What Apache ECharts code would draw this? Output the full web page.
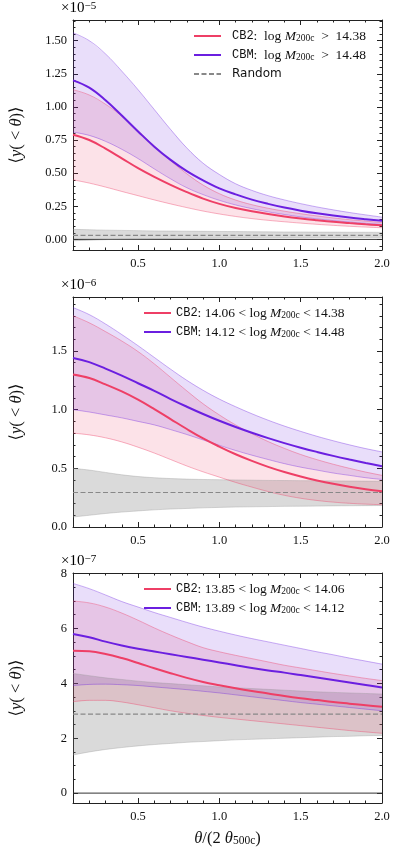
<!DOCTYPE html>
<html>
<head>
<meta charset="utf-8">
<script src="https://cdn.jsdelivr.net/npm/echarts@6/dist/echarts.min.js"></script>
<style>
html,body{margin:0;padding:0;background:#fff}
#chart{width:397px;height:850px}
</style>
</head>
<body>
<div id="chart"></div>
<script>
// theta / (2 theta_500c) sample points
var xs = [0.1,0.2,0.3,0.4,0.5,0.6,0.7,0.8,0.9,1.0,1.1,1.2,1.3,1.4,1.5,1.6,1.7,1.8,1.9,2.0];

// panel 1 (x1e-5)
var cb2Mean1 = [0.79,0.75,0.685,0.612,0.538,0.472,0.412,0.357,0.308,0.268,0.237,0.212,0.191,0.173,0.158,0.145,0.133,0.123,0.114,0.106];
var cb2High1 = [1.13,1.09,1.02,0.93,0.82,0.705,0.595,0.495,0.41,0.345,0.297,0.262,0.235,0.213,0.194,0.177,0.162,0.149,0.138,0.127];
var cb2Low1  = [0.45,0.425,0.395,0.362,0.33,0.298,0.268,0.24,0.214,0.192,0.173,0.157,0.144,0.133,0.123,0.114,0.106,0.099,0.093,0.088];
var cbmMean1 = [1.20,1.145,1.05,0.935,0.815,0.70,0.60,0.515,0.445,0.385,0.34,0.30,0.268,0.24,0.217,0.197,0.18,0.165,0.152,0.14];
var cbmHigh1 = [1.56,1.50,1.40,1.27,1.13,0.98,0.83,0.69,0.575,0.49,0.42,0.37,0.33,0.298,0.27,0.245,0.223,0.203,0.185,0.168];
var cbmLow1  = [0.81,0.785,0.74,0.68,0.61,0.532,0.457,0.39,0.338,0.295,0.26,0.232,0.208,0.188,0.17,0.155,0.142,0.131,0.121,0.113];
var rndHigh1 = [0.076,0.073,0.070,0.068,0.066,0.064,0.063,0.062,0.061,0.060,0.059,0.058,0.057,0.056,0.056,0.055,0.055,0.054,0.054,0.053];
var rndLow1  = [-0.010,-0.006,-0.002,0.001,0.003,0.005,0.007,0.008,0.009,0.010,0.011,0.012,0.012,0.013,0.013,0.014,0.014,0.015,0.015,0.015];

// panel 2 (x1e-6)
var cb2Mean2 = [1.30,1.27,1.215,1.155,1.085,1.005,0.92,0.835,0.755,0.685,0.62,0.563,0.512,0.468,0.43,0.397,0.368,0.343,0.322,0.305];
var cb2High2 = [1.80,1.74,1.665,1.585,1.495,1.39,1.275,1.16,1.05,0.955,0.87,0.795,0.728,0.67,0.618,0.574,0.535,0.50,0.468,0.44];
var cb2Low2  = [0.80,0.785,0.76,0.725,0.68,0.63,0.575,0.52,0.47,0.425,0.38,0.34,0.302,0.27,0.245,0.226,0.212,0.202,0.195,0.19];
var cbmMean2 = [1.44,1.405,1.35,1.29,1.225,1.16,1.09,1.025,0.963,0.905,0.852,0.803,0.757,0.715,0.676,0.64,0.606,0.575,0.546,0.518];
var cbmHigh2 = [1.87,1.81,1.73,1.64,1.545,1.445,1.345,1.25,1.165,1.09,1.025,0.965,0.91,0.86,0.815,0.773,0.735,0.70,0.668,0.64];
var cbmLow2  = [1.00,0.98,0.955,0.93,0.90,0.87,0.83,0.788,0.742,0.696,0.652,0.612,0.575,0.54,0.51,0.485,0.46,0.44,0.42,0.405];
var rndHigh2 = [0.50,0.485,0.465,0.445,0.43,0.42,0.413,0.408,0.405,0.403,0.401,0.399,0.397,0.396,0.395,0.394,0.393,0.392,0.391,0.39];
var rndLow2  = [0.085,0.10,0.115,0.127,0.137,0.146,0.153,0.158,0.163,0.167,0.170,0.172,0.174,0.176,0.177,0.178,0.180,0.181,0.182,0.183];

// panel 3 (x1e-7)
var cb2Mean3 = [5.19,5.17,5.07,4.92,4.74,4.55,4.37,4.20,4.05,3.93,3.82,3.72,3.63,3.54,3.46,3.39,3.32,3.26,3.20,3.15];
var cb2High3 = [7.00,6.93,6.78,6.56,6.30,6.02,5.76,5.52,5.30,5.15,5.02,4.90,4.78,4.66,4.56,4.46,4.36,4.27,4.18,4.10];
var cb2Low3  = [3.33,3.38,3.38,3.32,3.22,3.11,3.00,2.91,2.83,2.76,2.70,2.64,2.58,2.52,2.46,2.40,2.34,2.28,2.23,2.18];
var cbmMean3 = [5.80,5.68,5.52,5.38,5.26,5.16,5.06,4.96,4.86,4.76,4.66,4.56,4.47,4.39,4.30,4.21,4.12,4.03,3.94,3.85];
var cbmHigh3 = [7.64,7.45,7.22,6.98,6.78,6.58,6.40,6.22,6.05,5.90,5.76,5.63,5.51,5.39,5.27,5.15,5.04,4.92,4.81,4.70];
var cbmLow3  = [3.92,3.96,3.97,3.95,3.92,3.87,3.82,3.77,3.71,3.65,3.58,3.51,3.44,3.37,3.30,3.24,3.18,3.12,3.06,3.00];
var rndHigh3 = [4.36,4.28,4.20,4.14,4.08,4.03,3.99,3.95,3.91,3.87,3.84,3.81,3.78,3.75,3.72,3.69,3.67,3.65,3.63,3.61];
var rndLow3  = [1.39,1.50,1.59,1.66,1.72,1.77,1.81,1.85,1.88,1.91,1.94,1.96,1.98,2.00,2.02,2.04,2.06,2.07,2.09,2.10];

// random-position mean level per panel
var rndLevel = [0.03, 0.294, 2.88];

// ticks
var xMajor = [0.5, 1.0, 1.5, 2.0];
var yMajor1 = [0, 0.25, 0.5, 0.75, 1.0, 1.25, 1.5];
var yMajor2 = [0, 0.5, 1.0, 1.5];
var yMajor3 = [0, 2, 4, 6, 8];
var exponents = ['\u22125', '\u22126', '\u22127'];

var xMinor = [];
for (var k = 2; k <= 19; k++) if (k % 5) xMinor.push(k / 10);
var yMinor1 = [];
for (var k = -1; k <= 33; k++) if (k % 5) yMinor1.push(k * 0.05);
var yMinor2 = [];
for (var k = 1; k <= 19; k++) if (k % 5) yMinor2.push(k / 10);
var yMinor3 = [];
for (var k = 0; k <= 16; k++) if (k % 4) yMinor3.push(k * 0.5);

var SERIF = '"Liberation Serif", "DejaVu Serif", serif';
var MONO = '"Liberation Mono", "DejaVu Sans Mono", monospace';
var SANS = '"DejaVu Sans", sans-serif';
var INK = '#222';
var RED = '#ee3f66', PURPLE = '#6b1fe0';

var gridTops = [20, 297, 573];
var yRanges = [[-0.08, 1.656], [0, 1.96], [-0.36, 8.02]];
var yDec = [2, 1, 0];

var chart = echarts.init(document.getElementById('chart'));

var rich = {
    g: {width: 6},
    rm: {fontFamily: SERIF, fontSize: 13.5, color: '#111'},
    it: {fontFamily: SERIF, fontSize: 13.5, fontStyle: 'italic', color: '#111'},
    tt: {fontFamily: MONO, fontSize: 12, color: '#111'},
    sub: {fontFamily: SERIF, fontSize: 9.5, color: '#111', verticalAlign: 'bottom'},
    sans: {fontFamily: SANS, fontSize: 12, color: '#111'},
    lrm: {fontFamily: SERIF, fontSize: 16.5, color: '#111'},
    lit: {fontFamily: SERIF, fontSize: 16.5, fontStyle: 'italic', color: '#111'},
    lsub: {fontFamily: SERIF, fontSize: 11.5, color: '#111', verticalAlign: 'bottom'},
    ex: {fontFamily: SERIF, fontSize: 15, color: '#111'},
    exs: {fontFamily: SERIF, fontSize: 11, color: '#111', verticalAlign: 'top'}
};

var legendText = {
    'cb2-0': '{g|}{tt|CB2}{rm|:  log }{it|M}{sub|200c}{rm|  >  14.38}',
    'cbm-0': '{g|}{tt|CBM}{rm|:  log }{it|M}{sub|200c}{rm|  >  14.48}',
    'rnd-0': '{g|}{sans|Random}',
    'cb2-1': '{tt|CB2}{rm|: 14.06 < log }{it|M}{sub|200c}{rm| < 14.38}',
    'cbm-1': '{tt|CBM}{rm|: 14.12 < log }{it|M}{sub|200c}{rm| < 14.48}',
    'cb2-2': '{tt|CB2}{rm|: 13.85 < log }{it|M}{sub|200c}{rm| < 14.06}',
    'cbm-2': '{tt|CBM}{rm|: 13.89 < log }{it|M}{sub|200c}{rm| < 14.12}'
};

function pairs(arr) {
    return xs.map(function (x, i) { return [x, arr[i]]; });
}

function band(g, lo, hi, fill) {
    return {
        type: 'custom', xAxisIndex: g * 4, yAxisIndex: g * 4, data: [0], silent: true, z: 1,
        renderItem: function (params, api) {
            var pts = [];
            for (var i = 0; i < xs.length; i++) pts.push(api.coord([xs[i], hi[i]]));
            for (var i = xs.length - 1; i >= 0; i--) pts.push(api.coord([xs[i], lo[i]]));
            return {type: 'polygon', shape: {points: pts}, style: {fill: fill}};
        }
    };
}

function line(g, name, arr, color, width, z, dash) {
    return {
        type: 'line', name: name, xAxisIndex: g * 4, yAxisIndex: g * 4,
        data: pairs(arr), symbol: 'none', smooth: 0.4, silent: true, z: z,
        lineStyle: {color: color, width: width, type: dash || 'solid'},
        itemStyle: {color: color}
    };
}

function flat(g, name, level, color, width, z, dash) {
    return {
        type: 'line', name: name, xAxisIndex: g * 4, yAxisIndex: g * 4,
        data: [[xs[0], level], [xs[xs.length - 1], level]], symbol: 'none', silent: true, z: z,
        lineStyle: {color: color, width: width, type: dash || 'solid'},
        itemStyle: {color: color}
    };
}

var grids = [], xAxes = [], yAxes = [], series = [], legends = [], graphics = [];

function tickAxis(kind, g, pos, vals, len, labels, extra) {
    var ax = {
        gridIndex: g, type: 'value', position: pos,
        splitLine: {show: false},
        axisLine: {show: len > 3, onZero: false, lineStyle: {color: INK, width: 1}},
        axisTick: {show: true, inside: true, length: len, customValues: vals, lineStyle: {color: INK, width: 1}},
        axisLabel: {show: false}
    };
    if (kind === 'x') { ax.min = 0.1; ax.max = 2.0; }
    else { ax.min = yRanges[g][0]; ax.max = yRanges[g][1]; }
    if (labels) ax.axisLabel = labels;
    for (var key in extra) ax[key] = extra[key];
    return ax;
}

var yMajors = [yMajor1, yMajor2, yMajor3];
var yMinors = [yMinor1, yMinor2, yMinor3];

for (var g = 0; g < 3; g++) {
    grids.push({left: 60, top: gridTops[g], width: 322, height: 230});

    var xLab = {
        show: true, customValues: xMajor, margin: 7, color: '#111', fontFamily: SERIF, fontSize: 12.5,
        formatter: function (v) { return v.toFixed(1); }
    };
    var xExtra = {};
    if (g === 2) {
        xExtra = {
            name: '{lit|\u03b8}{lrm|/(2 }{lit|\u03b8}{lsub|500c}{lrm|)}', nameLocation: 'middle', nameGap: 27,
            nameTextStyle: {rich: rich}
        };
    }
    xAxes.push(tickAxis('x', g, 'bottom', xMajor, 5, xLab, xExtra));
    xAxes.push(tickAxis('x', g, 'bottom', xMinor, 2.5, null, {}));
    xAxes.push(tickAxis('x', g, 'top', xMajor, 5, null, {}));
    xAxes.push(tickAxis('x', g, 'top', xMinor, 2.5, null, {}));

    (function (d) {
        var yLab = {
            show: true, customValues: yMajors[g], margin: 6, color: '#111', fontFamily: SERIF, fontSize: 12.5,
            formatter: function (v) { return v.toFixed(d); }
        };
        yAxes.push(tickAxis('y', g, 'left', yMajors[g], 5, yLab, {
            name: '{lrm|\u27e8}{lit|y}{lrm|( < }{lit|\u03b8}{lrm|)\u27e9}', nameLocation: 'middle', nameGap: 48,
            nameRotate: 90, nameTextStyle: {rich: rich}
        }));
    })(yDec[g]);
    yAxes.push(tickAxis('y', g, 'left', yMinors[g], 2.5, null, {}));
    yAxes.push(tickAxis('y', g, 'right', yMajors[g], 5, null, {}));
    yAxes.push(tickAxis('y', g, 'right', yMinors[g], 2.5, null, {}));

    graphics.push({
        type: 'text', left: 61, top: gridTops[g] - 19, silent: true,
        style: {text: '{ex|\u00d710}{exs|' + exponents[g] + '}', rich: rich}
    });
}

var panels = [
    [cb2Mean1, cb2High1, cb2Low1, cbmMean1, cbmHigh1, cbmLow1, rndHigh1, rndLow1],
    [cb2Mean2, cb2High2, cb2Low2, cbmMean2, cbmHigh2, cbmLow2, rndHigh2, rndLow2],
    [cb2Mean3, cb2High3, cb2Low3, cbmMean3, cbmHigh3, cbmLow3, rndHigh3, rndLow3]
];

for (var g = 0; g < 3; g++) {
    var p = panels[g];
    if (g !== 1) series.push(flat(g, 'zero-' + g, 0, '#333', 1, 1));
    series.push(band(g, p[7], p[6], 'rgba(120,120,120,0.27)'));
    series.push(band(g, p[2], p[1], 'rgba(238,63,102,0.15)'));
    series.push(band(g, p[5], p[4], 'rgba(107,31,224,0.15)'));
    series.push(line(g, 'rh-' + g, p[6], 'rgba(150,150,150,0.45)', 0.8, 2));
    series.push(line(g, 'rl-' + g, p[7], 'rgba(150,150,150,0.45)', 0.8, 2));
    series.push(line(g, 'ch-' + g, p[1], 'rgba(238,63,102,0.5)', 0.8, 2));
    series.push(line(g, 'cl-' + g, p[2], 'rgba(238,63,102,0.5)', 0.8, 2));
    series.push(line(g, 'mh-' + g, p[4], 'rgba(107,31,224,0.45)', 0.8, 2));
    series.push(line(g, 'ml-' + g, p[5], 'rgba(107,31,224,0.45)', 0.8, 2));
    series.push(flat(g, 'rnd-' + g, rndLevel[g], '#888', 1.2, 3, [5, 2.5]));
    series.push(line(g, 'cb2-' + g, p[0], RED, 2, 4));
    series.push(line(g, 'cbm-' + g, p[3], PURPLE, 2, 4));

    var names = g === 0 ? ['cb2-0', 'cbm-0', 'rnd-0'] : ['cb2-' + g, 'cbm-' + g];
    legends.push({
        orient: 'vertical', left: g === 0 ? 193 : 143, top: gridTops[g] + 9, padding: 0,
        itemWidth: 27, itemHeight: 12, itemGap: 5, selectedMode: false,
        itemStyle: {opacity: 0, borderWidth: 0},
        data: names,
        formatter: function (n) { return legendText[n]; },
        textStyle: {rich: rich, fontFamily: SERIF, fontSize: 13.5}
    });
}

var option = {
    animation: false,
    backgroundColor: '#fff',
    grid: grids,
    xAxis: xAxes,
    yAxis: yAxes,
    legend: legends,
    graphic: graphics,
    series: series
};
chart.setOption(option);
</script>
</body>
</html>
